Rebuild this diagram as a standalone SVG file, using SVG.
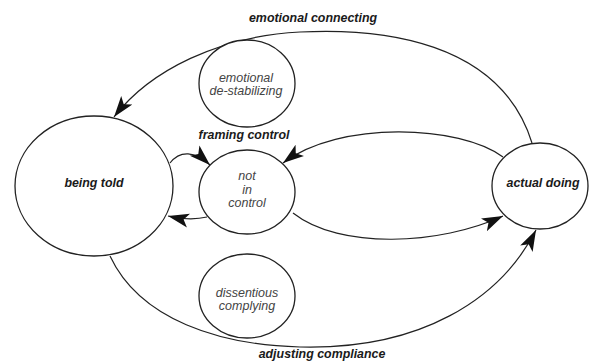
<svg xmlns="http://www.w3.org/2000/svg" width="589" height="363" viewBox="0 0 589 363">
<style>
.node{fill:#fff;stroke:#222;stroke-width:1.3}
.edge{fill:none;stroke:#222;stroke-width:1.2}
.lbl{font-family:"Liberation Sans",Arial,sans-serif;font-size:12.4px;font-weight:bold;font-style:italic;fill:#1a1a1a;text-anchor:middle}
.inner{font-family:"Liberation Sans",Arial,sans-serif;font-size:12.5px;font-style:italic;fill:#444;text-anchor:middle}
</style>
<defs>
<marker id="arr" markerUnits="userSpaceOnUse" markerWidth="22" markerHeight="16" refX="21" refY="7" orient="auto" viewBox="0 0 22 14">
<path d="M0,0 L21,7 L0,14 L5,7 z" fill="#111"/>
</marker>
</defs>
<rect width="589" height="363" fill="#fff"/>
<g id="edges">
<path class="edge" d="M532,143 C500,40 380,28 300,32 C220,36 150,70 114,117" marker-end="url(#arr)"/>
<path class="edge" d="M170,163 C180,150 195,151 210,165" marker-end="url(#arr)"/>
<path class="edge" d="M207,217 Q190,221 168,216" marker-end="url(#arr)"/>
<path class="edge" d="M503,157 C460,125 340,120 283,163" marker-end="url(#arr)"/>
<path class="edge" d="M293,213 C340,250 440,245 503,216" marker-end="url(#arr)"/>
<path class="edge" d="M110,256 C140,320 220,345 300,347 C420,350 500,300 536,230" marker-end="url(#arr)"/>
</g>
<g id="being-told">
<ellipse class="node" cx="94" cy="186" rx="79" ry="70"/>
<text class="lbl" x="94" y="187">being told</text>
</g>
<g id="emotional-de-stabilizing">
<ellipse class="node" cx="247" cy="83.5" rx="48" ry="43.5"/>
<text class="inner" x="246" y="82">emotional</text>
<text class="inner" x="246" y="95">de-stabilizing</text>
</g>
<g id="not-in-control">
<ellipse class="node" cx="247" cy="192" rx="48" ry="42"/>
<text class="inner" x="247" y="180">not</text>
<text class="inner" x="247" y="193.5">in</text>
<text class="inner" x="247" y="207">control</text>
</g>
<g id="dissentious-complying">
<ellipse class="node" cx="247" cy="296" rx="48" ry="42"/>
<text class="inner" x="247" y="297">dissentious</text>
<text class="inner" x="247" y="310">complying</text>
</g>
<g id="actual-doing">
<ellipse class="node" cx="540" cy="186" rx="48" ry="43"/>
<text class="lbl" x="543" y="187">actual doing</text>
</g>
<g id="labels">
<text class="lbl" x="313" y="22">emotional connecting</text>
<text class="lbl" x="244" y="139">framing control</text>
<text class="lbl" x="322" y="358">adjusting compliance</text>
</g>
</svg>
